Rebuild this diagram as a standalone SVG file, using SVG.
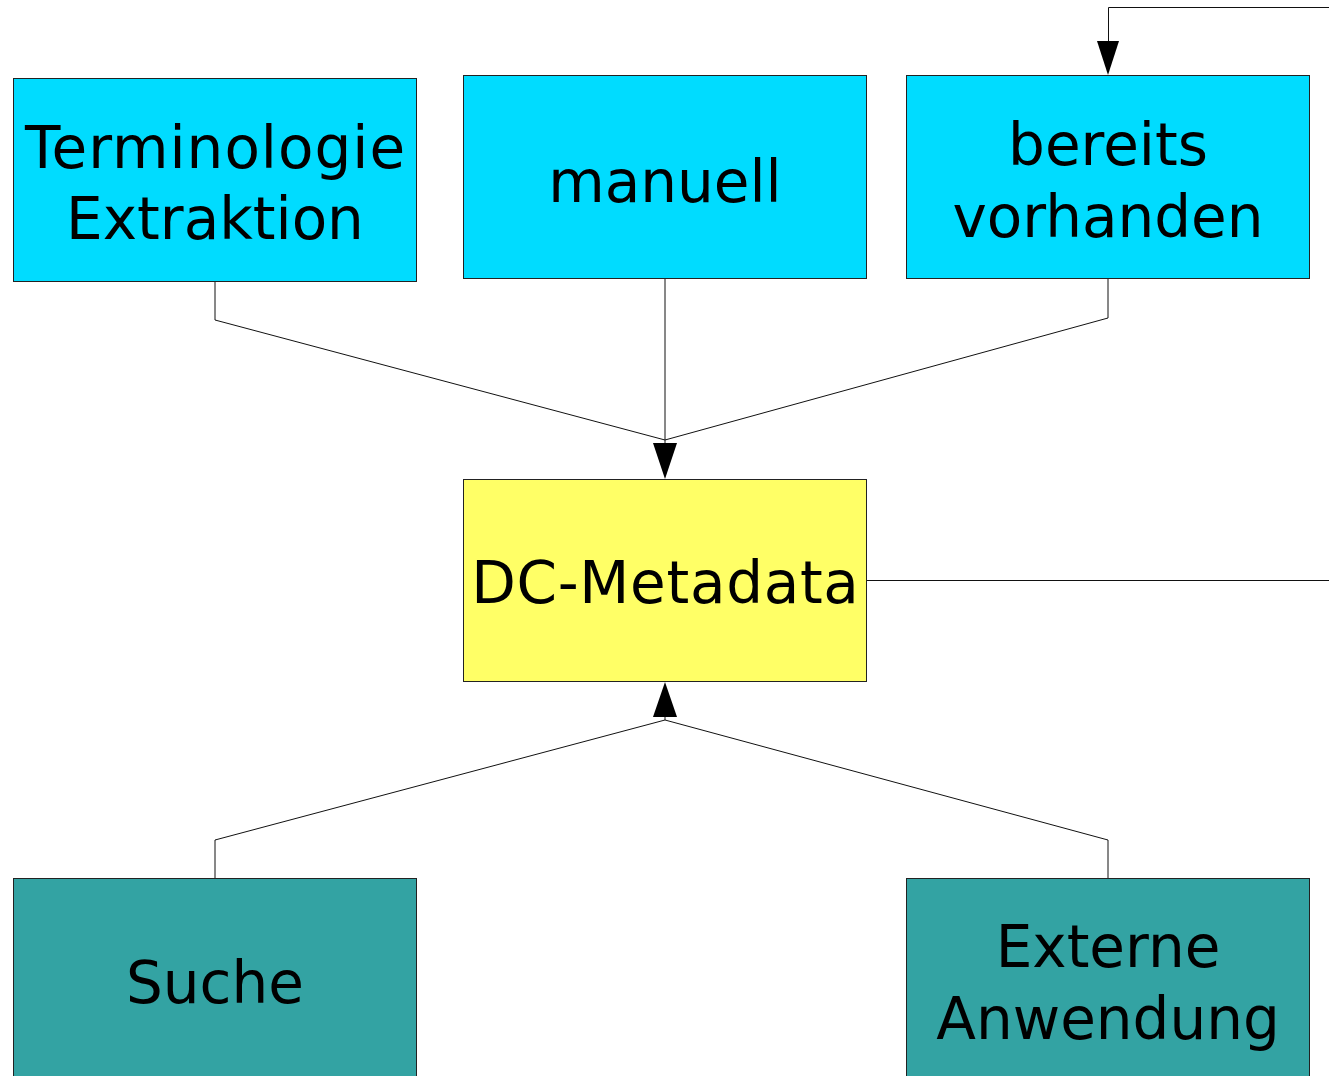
<svg xmlns="http://www.w3.org/2000/svg" width="1329" height="1076" viewBox="0 0 1329 1076">
  <style>
    .box { stroke: #222222; stroke-width: 1; }
    .src { fill: #00DCFF; }
    .hub { fill: #FFFF66; }
    .use { fill: #33A3A3; }
    .lbl { font-family: "DejaVu Sans", Verdana, sans-serif; font-size: 58px; fill: #000000; text-anchor: middle; }
    .wire { fill: none; stroke: #111111; stroke-width: 1; }
    .head { fill: #000000; }
  </style>
  <rect width="1329" height="1076" fill="#ffffff"/>

  <g id="connectors">
    <polyline class="wire" points="215,281 215,320 665,440"/>
    <polyline class="wire" points="1108,278 1108,318 665,440"/>
    <line class="wire" x1="665" y1="278" x2="665" y2="443"/>
    <path class="head" d="M653,443 L665,479 L677,443 Z"/>
    <polyline class="wire" points="215,878 215,840 665,720"/>
    <polyline class="wire" points="1108,878 1108,840 665,720"/>
    <line class="wire" x1="665" y1="720" x2="665" y2="717"/>
    <path class="head" d="M653,717 L665,682 L677,717 Z"/>
    <line class="wire" x1="866" y1="580.5" x2="1329" y2="580.5"/>
    <polyline class="wire" points="1329,7.5 1108.5,7.5 1108.5,41"/>
    <path class="head" d="M1097,41 L1108,75 L1119,41 Z"/>
  </g>

  <g id="terminologie">
    <rect class="box src" x="13.5" y="78.5" width="403" height="203"/>
    <text class="lbl" x="215.5" y="168" letter-spacing="1">Terminologie</text>
    <text class="lbl" x="215" y="239">Extraktion</text>
  </g>
  <g id="manuell">
    <rect class="box src" x="463.5" y="75.5" width="403" height="203"/>
    <text class="lbl" x="665" y="202">manuell</text>
  </g>
  <g id="vorhanden">
    <rect class="box src" x="906.5" y="75.5" width="403" height="203"/>
    <text class="lbl" x="1108" y="165">bereits</text>
    <text class="lbl" x="1108" y="237">vorhanden</text>
  </g>
  <g id="metadata">
    <rect class="box hub" x="463.5" y="479.5" width="403" height="202"/>
    <text class="lbl" x="665.4" y="603" letter-spacing="0.7">DC-Metadata</text>
  </g>
  <g id="suche">
    <rect class="box use" x="13.5" y="878.5" width="403" height="210"/>
    <text class="lbl" x="215" y="1003">Suche</text>
  </g>
  <g id="externe">
    <rect class="box use" x="906.5" y="878.5" width="403" height="210"/>
    <text class="lbl" x="1108" y="967">Externe</text>
    <text class="lbl" x="1108" y="1039">Anwendung</text>
  </g>
</svg>
